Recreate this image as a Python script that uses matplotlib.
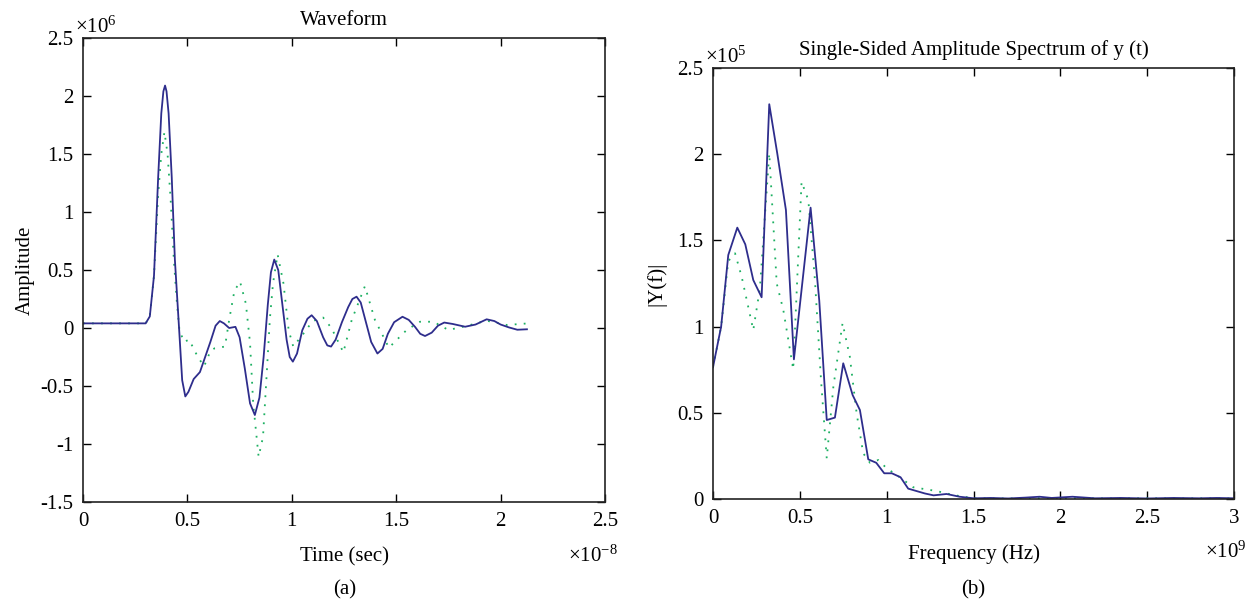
import matplotlib
matplotlib.use("Agg")
import matplotlib.pyplot as plt
from matplotlib.ticker import FuncFormatter

plt.rcParams['font.family'] = ['Liberation Serif', 'DejaVu Serif']
plt.rcParams['mathtext.fontset'] = 'custom'
plt.rcParams['mathtext.rm'] = 'Liberation Serif'
plt.rcParams['mathtext.it'] = 'Liberation Serif:italic'

# waveform, time in 1e-8 s, amplitude in 1e6
t_solid = [0, 0.30, 0.32, 0.34, 0.36, 0.375, 0.385, 0.393, 0.40, 0.41, 0.425, 0.44,
           0.46, 0.475, 0.49, 0.505, 0.53, 0.56, 0.585, 0.61, 0.635, 0.655, 0.675,
           0.70, 0.73, 0.75, 0.775, 0.80, 0.823, 0.845, 0.865, 0.885, 0.90, 0.916,
           0.935, 0.955, 0.975, 0.99, 1.005, 1.025, 1.05, 1.075, 1.095, 1.12, 1.15,
           1.17, 1.188, 1.21, 1.24, 1.27, 1.29, 1.31, 1.33, 1.355, 1.38, 1.41, 1.435,
           1.46, 1.49, 1.53, 1.56, 1.59, 1.615, 1.638, 1.67, 1.70, 1.73, 1.77, 1.83,
           1.88, 1.933, 1.97, 2.0, 2.04, 2.08, 2.126]
a_solid = [0.04, 0.04, 0.10, 0.45, 1.3, 1.85, 2.04, 2.09, 2.04, 1.85, 1.3, 0.59,
           0.0, -0.45, -0.59, -0.55, -0.44, -0.38, -0.25, -0.12, 0.02, 0.06, 0.04,
           0.0, 0.01, -0.08, -0.35, -0.65, -0.75, -0.6, -0.25, 0.2, 0.48, 0.59,
           0.5, 0.2, -0.1, -0.25, -0.29, -0.22, -0.02, 0.08, 0.11, 0.06, -0.08,
           -0.15, -0.16, -0.1, 0.05, 0.18, 0.25, 0.27, 0.22, 0.05, -0.12, -0.22, -0.18,
           -0.05, 0.05, 0.097, 0.07, 0.01, -0.05, -0.069, -0.04, 0.02, 0.047, 0.035, 0.011,
           0.03, 0.075, 0.06, 0.03, 0.005, -0.015, -0.011]

t_dot = [0, 0.30, 0.32, 0.34, 0.36, 0.375, 0.39, 0.405, 0.42, 0.435, 0.45, 0.462,
         0.484, 0.508, 0.55, 0.58, 0.61, 0.63, 0.68, 0.70, 0.725, 0.752, 0.78, 0.80,
         0.815, 0.841, 0.862, 0.88, 0.895, 0.91, 0.932, 0.96, 0.985, 1.007, 1.055,
         1.10, 1.15, 1.19, 1.247, 1.287, 1.35, 1.398, 1.465, 1.55, 1.614, 1.678, 1.75,
         1.835, 1.933, 2.03, 2.133]
a_dot = [0.04, 0.04, 0.10, 0.45, 1.15, 1.5, 1.69, 1.5, 1.1, 0.59, 0.21, -0.02,
         -0.12, -0.10, -0.25, -0.33, -0.2, -0.175, -0.16, 0.07, 0.32, 0.40, 0.21, -0.13,
         -0.65, -1.11, -0.94, -0.39, 0.08, 0.385, 0.635, 0.385, -0.02, -0.16, -0.05,
         0.06, 0.09, 0.0, -0.21, 0.07, 0.36, 0.07, -0.17, -0.017, 0.054, 0.054, -0.017,
         0.017, 0.063, 0.026, 0.04]

# spectrum, frequency in 1e9 Hz, |Y| in 1e5
f_solid = [0, 0.047, 0.088, 0.14, 0.186, 0.232, 0.28, 0.324, 0.37, 0.42, 0.466, 0.562,
           0.612, 0.655, 0.702, 0.75, 0.804, 0.846, 0.894, 0.94, 0.986, 1.03, 1.08,
           1.124, 1.172, 1.22, 1.27, 1.345, 1.42, 1.5, 1.6, 1.7, 1.8, 1.88, 1.95, 2.07,
           2.2, 2.35, 2.5, 2.65, 2.8, 2.9, 3.0]
y_solid = [0.764, 1.0, 1.415, 1.574, 1.477, 1.27, 1.17, 2.29, 2.005, 1.676, 0.81, 1.69,
           1.15, 0.458, 0.472, 0.787, 0.603, 0.516, 0.23, 0.21, 0.149, 0.149, 0.126,
           0.06, 0.046, 0.032, 0.021, 0.029, 0.013, 0.004, 0.006, 0.003, 0.008, 0.013,
           0.006, 0.013, 0.004, 0.006, 0.003, 0.006, 0.004, 0.006, 0.004]

f_dot = [0, 0.047, 0.088, 0.127, 0.165, 0.232, 0.27, 0.324, 0.367, 0.405, 0.462, 0.51,
         0.549, 0.587, 0.622, 0.655, 0.693, 0.746, 0.788, 0.827, 0.865, 0.904, 0.952,
         1.0, 1.058, 1.153, 1.288, 1.384, 1.5, 1.7, 1.9, 2.1, 2.3, 2.5, 2.7, 2.9, 3.0]
y_dot = [0.764, 1.0, 1.38, 1.425, 1.29, 0.98, 1.22, 2.005, 1.25, 1.096, 0.752, 1.84,
         1.734, 1.27, 0.69, 0.236, 0.65, 1.02, 0.825, 0.497, 0.265, 0.21, 0.226,
         0.178, 0.139, 0.068, 0.046, 0.023, 0.004, 0.003, 0.005, 0.004, 0.003, 0.004,
         0.003, 0.004, 0.003]

navy = '#2e2d8c'
green = '#1db062'
fs = 15

fmt = FuncFormatter(lambda v, p: ('%g' % v).replace('\u2212', '-'))

fig = plt.figure(figsize=(12.48, 6.06), dpi=100)
ax1 = fig.add_axes([0.0665, 0.1716, 0.4183, 0.7657])
ax2 = fig.add_axes([0.5713, 0.1766, 0.4175, 0.7112])

ax1.plot(t_dot, a_dot, color=green, lw=1.3, linestyle=(0, (1, 4)))
ax1.plot(t_solid, a_solid, color=navy, lw=1.3)
ax1.set_xlim(0, 2.5)
ax1.set_ylim(-1.5, 2.5)
ax1.set_xticks([0, 0.5, 1, 1.5, 2, 2.5])
ax1.set_yticks([-1.5, -1, -0.5, 0, 0.5, 1, 1.5, 2, 2.5])
ax1.set_title('Waveform', fontsize=fs, pad=9)
ax1.set_xlabel('Time (sec)', fontsize=fs, labelpad=12)
ax1.set_ylabel('Amplitude', fontsize=fs, labelpad=4)
ax1.text(-0.015, 1.0, r'$\times10^{6}$', transform=ax1.transAxes, fontsize=fs,
         ha='left', va='bottom')
ax1.text(1.025, -0.095, r'$\times10^{-8}$', transform=ax1.transAxes, fontsize=fs,
         ha='right', va='top')

ax2.plot(f_dot, y_dot, color=green, lw=1.3, linestyle=(0, (1, 4)))
ax2.plot(f_solid, y_solid, color=navy, lw=1.3)
ax2.set_xlim(0, 3)
ax2.set_ylim(0, 2.5)
ax2.set_xticks([0, 0.5, 1, 1.5, 2, 2.5, 3])
ax2.set_yticks([0, 0.5, 1, 1.5, 2, 2.5])
ax2.set_title('Single-Sided Amplitude Spectrum of y (t)', fontsize=fs, pad=9)
ax2.set_xlabel('Frequency (Hz)', fontsize=fs, labelpad=12)
ax2.set_ylabel('|Y(f)|', fontsize=fs, labelpad=8)
ax2.text(-0.015, 1.0, r'$\times10^{5}$', transform=ax2.transAxes, fontsize=fs,
         ha='left', va='bottom')
ax2.text(1.025, -0.1, r'$\times10^{9}$', transform=ax2.transAxes, fontsize=fs,
         ha='right', va='top')

fig.text(345 / 1248, 1 - 590 / 606, '(a)', fontsize=fs, ha='center', va='center')
fig.text(973 / 1248, 1 - 590 / 606, '(b)', fontsize=fs, ha='center', va='center')

for ax in (ax1, ax2):
    ax.xaxis.set_major_formatter(fmt)
    ax.yaxis.set_major_formatter(fmt)
    ax.tick_params(direction='in', top=True, right=True, length=6, width=1,
                   labelsize=fs, pad=7)
    for s in ax.spines.values():
        s.set_linewidth(1.2)
        s.set_color('#222222')

fig.savefig('out.png', dpi=100)
